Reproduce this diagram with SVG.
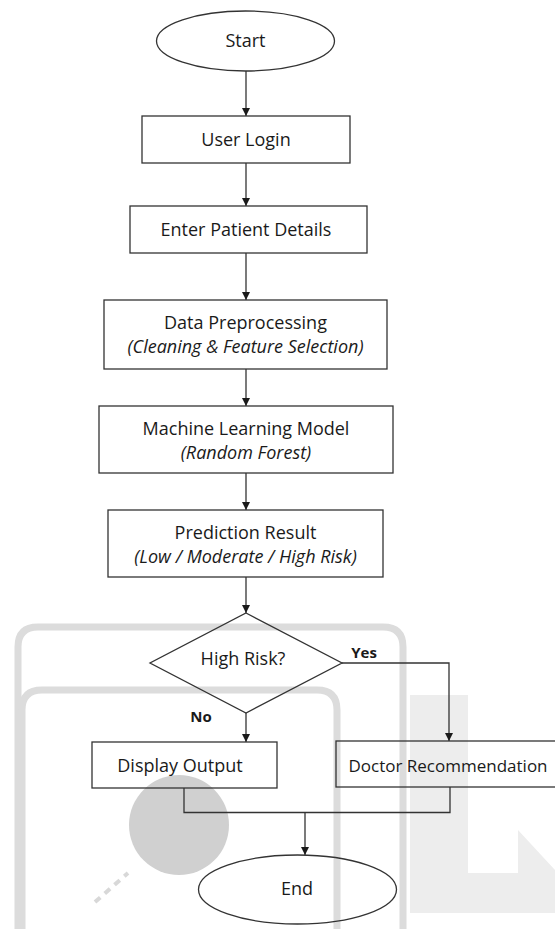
<svg xmlns="http://www.w3.org/2000/svg" width="555" height="929" viewBox="0 0 555 929">
<defs>
<style>
.n{fill:none;stroke:#333;stroke-width:1.3}
.t{font-family:"Open Sans","Noto Sans",sans-serif;font-size:18px;fill:#1a1a1a;text-anchor:middle}
.i{font-style:italic}
.b{font-weight:bold;font-size:15px}
.c{fill:none;stroke:#333;stroke-width:1.3}
.wm{fill:none;stroke:#dcdcdc;stroke-width:7}
</style>
<marker id="ah" viewBox="0 0 10 10" refX="10" refY="5" markerWidth="8" markerHeight="10" markerUnits="userSpaceOnUse" orient="auto">
<path d="M0,0 L10,5 L0,10 Z" fill="#1a1a1a"/>
</marker>
</defs>
<rect width="555" height="929" fill="#fff"/>
<g id="watermark">
<polygon points="410,695 468,695 468,873 518,873 518,830 555,870 555,913 410,913" fill="#ededed"/>
<path class="wm" d="M18,929 V647 Q18,627 38,627 H383 Q403,627 403,647 V929"/>
<path class="wm" d="M22,929 V710 Q22,690 42,690 H317 Q337,690 337,710 V929"/>
<circle cx="179" cy="825" r="50" fill="#d0d0d0"/>
<line x1="95" y1="902" x2="128" y2="873" stroke="#d8d8d8" stroke-width="4" stroke-dasharray="7,6"/>
</g>
<g id="connectors">
<line class="c" x1="246" y1="71" x2="246" y2="116" marker-end="url(#ah)"/>
<line class="c" x1="246" y1="163" x2="246" y2="206" marker-end="url(#ah)"/>
<line class="c" x1="246" y1="253" x2="246" y2="300" marker-end="url(#ah)"/>
<line class="c" x1="246" y1="369" x2="246" y2="406" marker-end="url(#ah)"/>
<line class="c" x1="246" y1="473" x2="246" y2="510" marker-end="url(#ah)"/>
<line class="c" x1="246" y1="577" x2="246" y2="613" marker-end="url(#ah)"/>
<polyline class="c" points="342,663 449,663 449,741" marker-end="url(#ah)"/>
<line class="c" x1="246" y1="713" x2="246" y2="742" marker-end="url(#ah)"/>
<polyline class="c" points="184,788 184,812.5 450,812.5 450,787"/>
<line class="c" x1="305" y1="812.5" x2="305" y2="855" marker-end="url(#ah)"/>
<text class="t b" x="364" y="658">Yes</text>
<text class="t b" x="201" y="722">No</text>
</g>
<g id="start">
<ellipse class="n" cx="245.5" cy="41" rx="89" ry="30"/>
<text class="t" x="245.5" y="47">Start</text>
</g>
<g id="user-login">
<rect class="n" x="142" y="116" width="208" height="47"/>
<text class="t" x="246" y="146">User Login</text>
</g>
<g id="enter-patient">
<rect class="n" x="130" y="206" width="237" height="47"/>
<text class="t" x="246" y="236">Enter Patient Details</text>
</g>
<g id="preprocessing">
<rect class="n" x="104" y="300" width="283" height="69"/>
<text class="t" x="245.5" y="329">Data Preprocessing</text>
<text class="t i" x="245.5" y="353">(Cleaning &amp; Feature Selection)</text>
</g>
<g id="model">
<rect class="n" x="99" y="406" width="294" height="67"/>
<text class="t" x="246" y="435">Machine Learning Model</text>
<text class="t i" x="246" y="459">(Random Forest)</text>
</g>
<g id="prediction">
<rect class="n" x="108" y="510" width="275" height="67"/>
<text class="t" x="245.5" y="539">Prediction Result</text>
<text class="t i" x="245.5" y="563">(Low / Moderate / High Risk)</text>
</g>
<g id="decision">
<polygon class="n" points="246,613 342,663 246,713 150,663"/>
<text class="t" x="243" y="665">High Risk?</text>
</g>
<g id="display-output">
<rect class="n" x="92" y="742" width="185" height="46"/>
<text class="t" x="180" y="772">Display Output</text>
</g>
<g id="doctor">
<rect class="n" x="336" y="741" width="225" height="46"/>
<text class="t" x="448" y="772" style="font-size:17px">Doctor Recommendation</text>
</g>
<g id="end">
<ellipse class="n" cx="297.5" cy="889.5" rx="99" ry="34.5"/>
<text class="t" x="297" y="895">End</text>
</g>
</svg>
